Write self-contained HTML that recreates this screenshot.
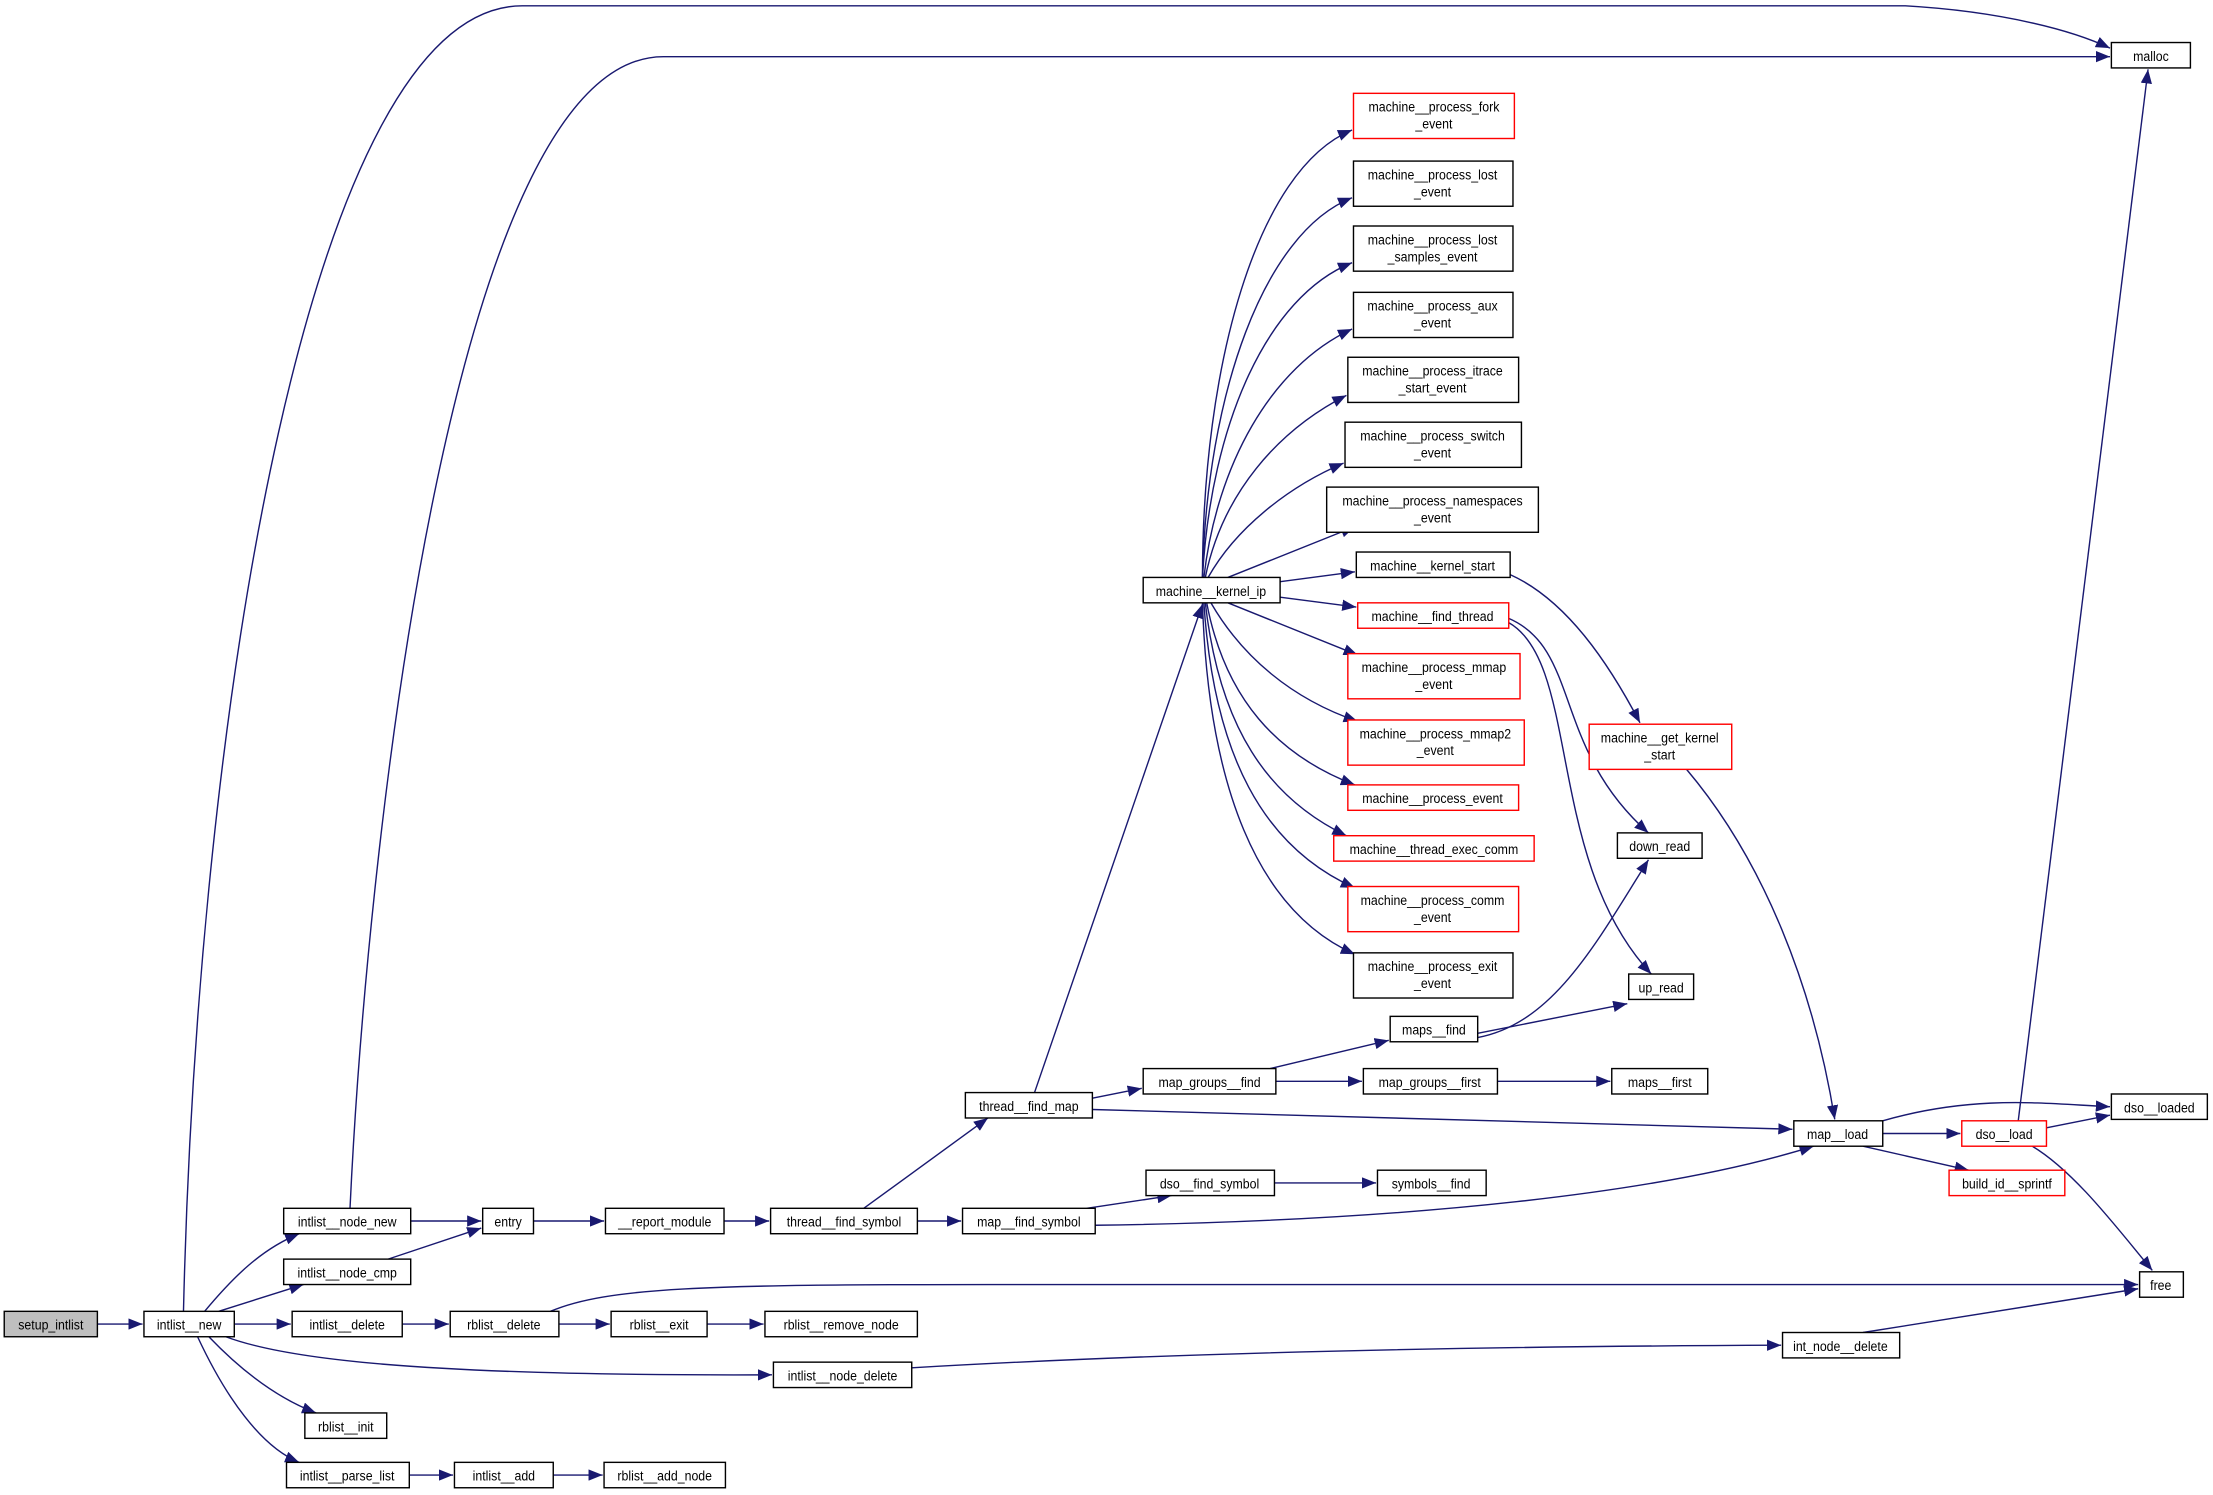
<!DOCTYPE html>
<html><head><meta charset="utf-8">
<style>
html,body{margin:0;padding:0;background:#fff;}
svg{display:block;}
text{font-family:"Liberation Sans",sans-serif;font-size:9.5px;fill:#000;text-anchor:middle;font-stretch:condensed;}
.n{fill:#fff;stroke:#000;stroke-width:1;}
.r{fill:#fff;stroke:#ff0000;stroke-width:1;}
.g{fill:#bfbfbf;stroke:#000;stroke-width:1;}
.e{fill:none;stroke:#191970;stroke-width:1;marker-end:url(#a);}
</style></head><body>
<svg width="2213" height="1495" viewBox="0 0 1568 1059" xmlns="http://www.w3.org/2000/svg">
<defs><marker id="a" markerUnits="userSpaceOnUse" markerWidth="11" markerHeight="8" refX="10" refY="4" orient="auto"><path d="M0,0 L10,4 L0,8 Z" fill="#191970"/></marker></defs>
<g>
<path class="e" d="M69,938 L101,938"/>
<path class="e" d="M130,929 C140,500 220,4 370,4 L1350,4 C1420,8 1470,22 1495,34"/>
<path class="e" d="M248,856 C260,600 320,40 470,40 L1495,40"/>
<path class="e" d="M145,929 C165,905 185,885 212,874"/>
<path class="e" d="M155,929 L215,910"/>
<path class="e" d="M166,938 L206,938"/>
<path class="e" d="M160,947 C200,962 290,975 547,974"/>
<path class="e" d="M148,947 C170,970 195,990 224,1001"/>
<path class="e" d="M140,947 C160,990 185,1025 212,1036"/>
<path class="e" d="M291,865 L341,865"/>
<path class="e" d="M275,892 L341,870"/>
<path class="e" d="M378,865 L428,865"/>
<path class="e" d="M513,865 L545,865"/>
<path class="e" d="M612,856 L700,792"/>
<path class="e" d="M650,865 L681,865"/>
<path class="e" d="M285,938 L318,938"/>
<path class="e" d="M396,938 L432,938"/>
<path class="e" d="M501,938 L541,938"/>
<path class="e" d="M390,929 C430,912 500,910 700,910 L1515,910"/>
<path class="e" d="M646,969 C800,960 1000,954 1262,953"/>
<path class="e" d="M1320,944 L1515,913"/>
<path class="e" d="M290,1045 L321,1045"/>
<path class="e" d="M392,1045 L427,1045"/>
<path class="e" d="M733,774 L852,428"/>
<path class="e" d="M774,778 L809,771"/>
<path class="e" d="M774,786 L1270,800"/>
<path class="e" d="M770,856 L830,847"/>
<path class="e" d="M776,868 C1000,865 1180,845 1285,812"/>
<path class="e" d="M903,838 L975,838"/>
<path class="e" d="M900,757 L984,737"/>
<path class="e" d="M904,766 L965,766"/>
<path class="e" d="M1061,766 L1141,766"/>
<path class="e" d="M1047,732 L1153,711"/>
<path class="e" d="M1047,735 C1100,725 1130,670 1168,609"/>
<path class="e" d="M1069,438 C1120,460 1100,530 1168,590"/>
<path class="e" d="M1069,441 C1120,470 1095,610 1170,690"/>
<path class="e" d="M1070,407 C1110,425 1140,470 1162,512"/>
<path class="e" d="M1195,545 C1250,610 1285,700 1300,793"/>
<path class="e" d="M1334,803 L1389,803"/>
<path class="e" d="M1334,794 C1400,775 1450,782 1495,784"/>
<path class="e" d="M1320,812 L1395,829"/>
<path class="e" d="M1430,794 L1522,49"/>
<path class="e" d="M1450,799 L1495,790"/>
<path class="e" d="M1440,812 C1470,830 1500,870 1525,900"/>
<path class="e" d="M852,409 C852,260 890,120 958,92"/>
<path class="e" d="M852,409 C855,280 895,165 958,140"/>
<path class="e" d="M852,409 C858,300 898,210 958,186"/>
<path class="e" d="M853,409 C862,330 900,260 958,233"/>
<path class="e" d="M854,409 C866,350 905,305 954,280"/>
<path class="e" d="M856,409 C875,375 912,345 952,328"/>
<path class="e" d="M870,409 L960,373"/>
<path class="e" d="M907,412 L960,405"/>
<path class="e" d="M907,423 L961,430"/>
<path class="e" d="M870,427 L962,464"/>
<path class="e" d="M858,427 C880,465 915,495 962,511"/>
<path class="e" d="M855,427 C868,495 905,535 960,556"/>
<path class="e" d="M854,427 C864,515 898,565 954,592"/>
<path class="e" d="M853,427 C860,535 895,600 960,629"/>
<path class="e" d="M852,427 C856,555 890,645 960,676"/>
</g>
<g transform="scale(1,1)">
<rect class="g" x="3" y="929" width="66" height="18"/><text x="36" y="942">setup_intlist</text>
<rect class="n" x="102" y="929" width="64" height="18"/><text x="134" y="942">intlist__new</text>
<rect class="n" x="201" y="856" width="90" height="18"/><text x="246" y="869">intlist__node_new</text>
<rect class="n" x="201" y="892" width="90" height="18"/><text x="246" y="905">intlist__node_cmp</text>
<rect class="n" x="207" y="929" width="78" height="18"/><text x="246" y="942">intlist__delete</text>
<rect class="n" x="216" y="1001" width="58" height="18"/><text x="245" y="1014">rblist__init</text>
<rect class="n" x="203" y="1036" width="87" height="18"/><text x="246" y="1049">intlist__parse_list</text>
<rect class="n" x="342" y="856" width="36" height="18"/><text x="360" y="869">entry</text>
<rect class="n" x="429" y="856" width="84" height="18"/><text x="471" y="869">__report_module</text>
<rect class="n" x="546" y="856" width="104" height="18"/><text x="598" y="869">thread__find_symbol</text>
<rect class="n" x="319" y="929" width="77" height="18"/><text x="357" y="942">rblist__delete</text>
<rect class="n" x="433" y="929" width="68" height="18"/><text x="467" y="942">rblist__exit</text>
<rect class="n" x="542" y="929" width="108" height="18"/><text x="596" y="942">rblist__remove_node</text>
<rect class="n" x="548" y="965" width="98" height="18"/><text x="597" y="978">intlist__node_delete</text>
<rect class="n" x="322" y="1036" width="70" height="18"/><text x="357" y="1049">intlist__add</text>
<rect class="n" x="428" y="1036" width="86" height="18"/><text x="471" y="1049">rblist__add_node</text>
<rect class="n" x="684" y="774" width="90" height="18"/><text x="729" y="787">thread__find_map</text>
<rect class="n" x="682" y="856" width="94" height="18"/><text x="729" y="869">map__find_symbol</text>
<rect class="n" x="810" y="757" width="94" height="18"/><text x="857" y="770">map_groups__find</text>
<rect class="n" x="812" y="829" width="91" height="18"/><text x="857" y="842">dso__find_symbol</text>
<rect class="n" x="985" y="720" width="62" height="18"/><text x="1016" y="733">maps__find</text>
<rect class="n" x="966" y="757" width="95" height="18"/><text x="1013" y="770">map_groups__first</text>
<rect class="n" x="1142" y="757" width="68" height="18"/><text x="1176" y="770">maps__first</text>
<rect class="n" x="976" y="829" width="77" height="18"/><text x="1014" y="842">symbols__find</text>
<rect class="n" x="1154" y="690" width="46" height="18"/><text x="1177" y="703">up_read</text>
<rect class="n" x="1146" y="590" width="60" height="18"/><text x="1176" y="603">down_read</text>
<rect class="n" x="1271" y="794" width="63" height="18"/><text x="1302" y="807">map__load</text>
<rect class="n" x="810" y="409" width="97" height="18"/><text x="858" y="422">machine__kernel_ip</text>
<rect class="r" x="959" y="66" width="114" height="32"/><text x="1016" y="79">machine__process_fork</text><text x="1016" y="91">_event</text>
<rect class="n" x="959" y="114" width="113" height="32"/><text x="1015" y="127">machine__process_lost</text><text x="1015" y="139">_event</text>
<rect class="n" x="959" y="160" width="113" height="32"/><text x="1015" y="173">machine__process_lost</text><text x="1015" y="185">_samples_event</text>
<rect class="n" x="959" y="207" width="113" height="32"/><text x="1015" y="220">machine__process_aux</text><text x="1015" y="232">_event</text>
<rect class="n" x="955" y="253" width="121" height="32"/><text x="1015" y="266">machine__process_itrace</text><text x="1015" y="278">_start_event</text>
<rect class="n" x="953" y="299" width="125" height="32"/><text x="1015" y="312">machine__process_switch</text><text x="1015" y="324">_event</text>
<rect class="n" x="940" y="345" width="150" height="32"/><text x="1015" y="358">machine__process_namespaces</text><text x="1015" y="370">_event</text>
<rect class="n" x="961" y="391" width="109" height="18"/><text x="1015" y="404">machine__kernel_start</text>
<rect class="r" x="962" y="427" width="107" height="18"/><text x="1015" y="440">machine__find_thread</text>
<rect class="r" x="955" y="463" width="122" height="32"/><text x="1016" y="476">machine__process_mmap</text><text x="1016" y="488">_event</text>
<rect class="r" x="955" y="510" width="125" height="32"/><text x="1017" y="523">machine__process_mmap2</text><text x="1017" y="535">_event</text>
<rect class="r" x="955" y="556" width="121" height="18"/><text x="1015" y="569">machine__process_event</text>
<rect class="r" x="945" y="592" width="142" height="18"/><text x="1016" y="605">machine__thread_exec_comm</text>
<rect class="r" x="955" y="628" width="121" height="32"/><text x="1015" y="641">machine__process_comm</text><text x="1015" y="653">_event</text>
<rect class="n" x="959" y="675" width="113" height="32"/><text x="1015" y="688">machine__process_exit</text><text x="1015" y="700">_event</text>
<rect class="r" x="1126" y="513" width="101" height="32"/><text x="1176" y="526">machine__get_kernel</text><text x="1176" y="538">_start</text>
<rect class="n" x="1496" y="30" width="56" height="18"/><text x="1524" y="43">malloc</text>
<rect class="r" x="1390" y="794" width="60" height="18"/><text x="1420" y="807">dso__load</text>
<rect class="n" x="1496" y="775" width="68" height="18"/><text x="1530" y="788">dso__loaded</text>
<rect class="r" x="1381" y="829" width="82" height="18"/><text x="1422" y="842">build_id__sprintf</text>
<rect class="n" x="1516" y="901" width="31" height="18"/><text x="1531" y="914">free</text>
<rect class="n" x="1263" y="944" width="83" height="18"/><text x="1304" y="957">int_node__delete</text>
</g>
<style>text{transform-box:fill-box;transform-origin:center;transform:scaleX(0.92);}</style>
</svg>
</body></html>
